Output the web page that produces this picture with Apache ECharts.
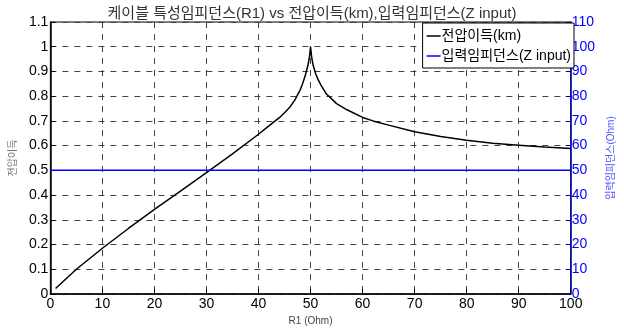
<!DOCTYPE html>
<html>
<head>
<meta charset="utf-8">
<script src="https://cdn.jsdelivr.net/npm/echarts@6/dist/echarts.min.js"></script>
<style>
html,body{margin:0;padding:0;background:#fff;}
#chart{width:624px;height:335px;}
</style>
</head>
<body>
<div id="chart"></div>
<script>
// R1 (Ohm) sample positions and voltage gain
const r1Values = [1, 5, 10, 15, 20, 25, 30, 35, 40, 42, 44, 45, 46, 47, 48, 48.5, 49, 49.5, 49.8, 50,
  50.2, 50.5, 51, 51.5, 52, 53, 54, 55, 57, 60, 62, 65, 70, 75, 80, 85, 90, 95, 100];
const gainValues = [0.022, 0.10, 0.185, 0.265, 0.342, 0.416, 0.491, 0.567, 0.646, 0.68, 0.713, 0.733, 0.755, 0.785, 0.825, 0.852, 0.885, 0.925, 0.96, 1.0,
  0.96, 0.925, 0.89, 0.865, 0.845, 0.81, 0.79, 0.77, 0.745, 0.714, 0.70, 0.683, 0.656, 0.637, 0.622, 0.61, 0.602, 0.594, 0.588];
// input impedance (Ohm)
const zInputR1 = [0, 100];
const zInputValues = [50, 50];
// tick labels
const xTicks = [0, 10, 20, 30, 40, 50, 60, 70, 80, 90, 100];
const leftTicks = [0, 0.1, 0.2, 0.3, 0.4, 0.5, 0.6, 0.7, 0.8, 0.9, 1, 1.1];
const rightTicks = [0, 10, 20, 30, 40, 50, 60, 70, 80, 90, 100, 110];

const FONT = '"Liberation Sans", "Noto Sans CJK KR", sans-serif';
const chart = echarts.init(document.getElementById('chart'));
const gain = r1Values.map((r, i) => [r, gainValues[i]]);
const zin = zInputR1.map((r, i) => [r, zInputValues[i]]);

chart.setOption({
  animation: false,
  textStyle: { fontFamily: FONT },
  title: {
    text: '케이블 특성임피던스(R1) vs 전압이득(km),입력임피던스(Z input)',
    left: 'center', top: 1,
    textStyle: { fontSize: 15, fontWeight: 'normal', color: '#333', fontFamily: FONT }
  },
  grid: { left: 46, right: 48, top: 22, bottom: 41, show: true, borderColor: '#000', borderWidth: 1 },
  legend: {
    orient: 'vertical', right: 50, top: 23,
    backgroundColor: '#fff', borderColor: '#000', borderWidth: 1, borderRadius: 0,
    padding: [6, 3, 5, 4], itemGap: 6, itemWidth: 14, itemHeight: 1.5, icon: 'rect',
    textStyle: { fontSize: 14, color: '#000', fontFamily: FONT, padding: [0, 0, 0, -4] },
    data: ['전압이득(km)', '입력임피던스(Z input)']
  },
  xAxis: {
    type: 'value', min: 0, max: 100, interval: 10,
    name: 'R1 (Ohm)', nameLocation: 'middle', nameGap: 22,
    nameTextStyle: { fontSize: 10, color: '#444', fontFamily: FONT },
    axisLine: { lineStyle: { color: '#000', width: 1.5 } },
    axisTick: { inside: true, length: 5, lineStyle: { color: '#000' } },
    axisLabel: { fontSize: 14, color: '#000', margin: 3, fontFamily: FONT,
      formatter: v => xTicks.includes(v) ? String(v) : '' },
    splitLine: { show: true, lineStyle: { color: '#444', type: [6, 6], width: 1 } }
  },
  yAxis: [{
    type: 'value', min: 0, max: 1.1, interval: 0.1,
    name: '전압이득', nameLocation: 'middle', nameGap: 24, nameRotate: 90,
    nameTextStyle: { fontSize: 10, color: '#777', fontFamily: FONT },
    axisLine: { show: true, lineStyle: { color: '#000', width: 1.5 } },
    axisTick: { inside: true, length: 5, lineStyle: { color: '#000' } },
    axisLabel: { fontSize: 14, color: '#000', margin: 2, fontFamily: FONT,
      formatter: v => { const t = leftTicks.find(x => Math.abs(x - v) < 1e-6); return t === undefined ? '' : String(t); } },
    splitLine: { show: true, lineStyle: { color: '#444', type: [6, 6], width: 1 } }
  }, {
    type: 'value', min: 0, max: 110, interval: 10, position: 'right',
    name: '입력임피던스(Ohm)', nameLocation: 'middle', nameGap: 26, nameRotate: 90,
    nameTextStyle: { fontSize: 10, color: '#5555ff', fontFamily: FONT },
    axisLine: { show: true, lineStyle: { color: '#0000aa', width: 1.5 } },
    axisTick: { inside: true, length: 5, lineStyle: { color: '#0000aa' } },
    axisLabel: { fontSize: 14, color: '#0000ff', margin: 1, fontFamily: FONT,
      formatter: v => rightTicks.includes(Math.round(v)) ? String(Math.round(v)) : '' },
    splitLine: { show: false }
  }],
  series: [{
    name: '전압이득(km)', type: 'line', yAxisIndex: 0, data: gain,
    symbol: 'none', smooth: false,
    lineStyle: { color: '#000', width: 1.5 }, itemStyle: { color: '#000' }, z: 3
  }, {
    name: '입력임피던스(Z input)', type: 'line', yAxisIndex: 1, data: zin,
    symbol: 'none', lineStyle: { color: '#0000ff', width: 1.5 }, itemStyle: { color: '#0000ff' }, z: 3
  }]
});
</script>
</body>
</html>
